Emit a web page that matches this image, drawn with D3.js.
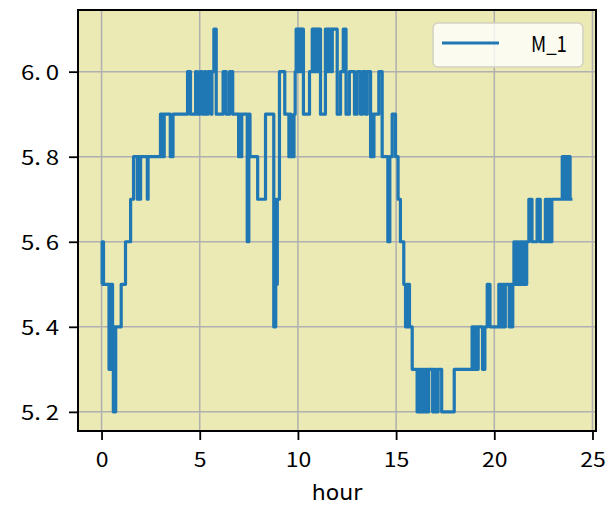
<!DOCTYPE html>
<html>
<head>
<meta charset="utf-8">
<script src="https://cdn.jsdelivr.net/npm/d3@7"></script>
<style>
  html, body { margin: 0; padding: 0; background: #ffffff; }
  svg { display: block; }
</style>
</head>
<body>
<svg id="chart" width="613" height="520"></svg>
<script>
// ---- data ----
const seriesName = "M_1";
const hours = [
  0.00, 0.03, 0.10, 0.38, 0.42, 0.46, 0.50, 0.56, 0.60, 0.64, 0.68, 0.72, 1.00, 1.22, 1.48, 1.63,
  1.82, 1.86, 1.95, 1.99, 2.33, 2.37, 3.00, 3.05, 3.09, 3.14, 3.19, 3.50, 3.64, 4.38, 4.53, 4.79,
  4.87, 5.00, 5.13, 5.25, 5.32, 5.42, 5.58, 5.62, 5.72, 5.84, 6.19, 6.35, 6.52, 6.68, 6.98, 7.03,
  7.07, 7.14, 7.42, 7.50, 7.56, 7.95, 8.35, 8.77, 8.80, 8.83, 8.87, 8.90, 8.92, 8.95, 9.06, 9.33,
  9.54, 9.60, 9.64, 9.80, 9.86, 9.91, 10.00, 10.04, 10.12, 10.16, 10.28, 10.59, 10.73, 10.84, 10.89, 11.00,
  11.04, 11.15, 11.40, 11.52, 11.57, 11.70, 11.75, 12.00, 12.17, 12.31, 12.45, 12.62, 12.88, 13.02, 13.19, 13.30,
  13.45, 13.53, 13.70, 13.78, 13.82, 13.87, 14.12, 14.29, 14.58, 14.68, 14.80, 14.97, 15.10, 15.22, 15.39, 15.48,
  15.53, 15.58, 15.63, 15.68, 15.82, 16.07, 16.12, 16.17, 16.23, 16.28, 16.34, 16.39, 16.45, 16.50, 16.56, 16.61,
  16.66, 16.86, 16.92, 16.97, 17.03, 17.08, 17.14, 17.32, 17.96, 18.87, 18.92, 18.97, 19.02, 19.08, 19.13, 19.18,
  19.40, 19.52, 19.64, 19.78, 20.23, 20.28, 20.34, 20.39, 20.45, 20.50, 20.56, 20.76, 20.82, 20.88, 20.94, 21.00,
  21.05, 21.11, 21.16, 21.22, 21.27, 21.33, 21.38, 21.44, 21.49, 21.55, 21.60, 21.65, 21.76, 21.92, 22.18, 22.34,
  22.60, 22.70, 22.76, 22.86, 22.93, 23.46, 23.51, 23.56, 23.62, 23.67, 23.74, 23.79, 23.86, 23.98
];
const m1 = [
  5.5, 5.6, 5.5, 5.3, 5.5, 5.3, 5.5, 5.4, 5.2, 5.4, 5.2, 5.4, 5.5, 5.6, 5.7, 5.8,
  5.7, 5.8, 5.7, 5.8, 5.7, 5.8, 5.9, 5.8, 5.9, 5.8, 5.9, 5.8, 5.9, 6.0, 5.9, 6.0,
  5.9, 6.0, 5.9, 6.0, 5.9, 6.0, 5.9, 6.0, 6.1, 5.9, 6.0, 5.9, 6.0, 5.9, 5.8, 5.9,
  5.8, 5.9, 5.6, 5.9, 5.8, 5.7, 5.9, 5.4, 5.5, 5.4, 5.5, 5.7, 5.5, 5.7, 6.0, 5.9,
  5.8, 5.9, 5.8, 5.9, 6.0, 6.1, 6.0, 6.1, 6.0, 6.1, 5.9, 6.0, 6.1, 6.0, 6.1, 6.0,
  6.1, 5.9, 6.1, 6.0, 6.1, 6.0, 6.1, 5.9, 6.0, 6.1, 5.9, 6.0, 5.9, 6.0, 5.9, 6.0,
  5.9, 6.0, 5.8, 5.9, 5.8, 5.9, 6.0, 5.8, 5.6, 5.8, 5.9, 5.8, 5.7, 5.6, 5.5, 5.4,
  5.5, 5.4, 5.5, 5.4, 5.3, 5.2, 5.3, 5.2, 5.3, 5.2, 5.3, 5.2, 5.3, 5.2, 5.3, 5.2,
  5.3, 5.2, 5.3, 5.2, 5.3, 5.2, 5.3, 5.2, 5.3, 5.4, 5.3, 5.4, 5.3, 5.4, 5.3, 5.4,
  5.3, 5.4, 5.5, 5.4, 5.5, 5.4, 5.5, 5.4, 5.5, 5.4, 5.5, 5.4, 5.5, 5.4, 5.5, 5.6,
  5.5, 5.6, 5.5, 5.6, 5.5, 5.6, 5.5, 5.6, 5.5, 5.6, 5.5, 5.6, 5.7, 5.6, 5.7, 5.6,
  5.7, 5.6, 5.7, 5.6, 5.7, 5.8, 5.7, 5.8, 5.7, 5.8, 5.7, 5.8, 5.7, 5.7
];
const xTicks = [0, 5, 10, 15, 20, 25];
const yTicks = [5.2, 5.4, 5.6, 5.8, 6.0];
const xLabel = "hour";

// ---- layout ----
const svg = d3.select("#chart");
const L = 78, R = 596, T = 10, B = 431;
const jpFont = "'Noto Sans CJK JP', 'Noto Sans', 'DejaVu Sans', sans-serif";

const xMin = d3.min(hours), xMax = d3.max(hours);
const xPad = (xMax - xMin) * 0.05;
const yMin = d3.min(m1), yMax = d3.max(m1);
const yPad = (yMax - yMin) * 0.05;

const x = d3.scaleLinear().domain([xMin - xPad, xMax + xPad]).range([L, R]);
const y = d3.scaleLinear().domain([yMin - yPad, yMax + yPad]).range([B, T]);

// background
svg.append("rect").attr("x", L).attr("y", T).attr("width", R - L).attr("height", B - T)
  .attr("fill", "#ebe9b4");

// grid
const grid = svg.append("g").attr("stroke", "#b0b0b0").attr("stroke-width", 1.5);
xTicks.forEach(t => grid.append("line").attr("x1", x(t)).attr("x2", x(t)).attr("y1", T).attr("y2", B));
yTicks.forEach(t => grid.append("line").attr("x1", L).attr("x2", R).attr("y1", y(t)).attr("y2", y(t)));

// series
const data = hours.map((h, i) => ({ h, v: m1[i] }));
const line = d3.line().x(d => x(d.h)).y(d => y(d.v)).curve(d3.curveStepAfter);
svg.append("path").datum(data)
  .attr("d", line)
  .attr("fill", "none")
  .attr("stroke", "#1f77b4")
  .attr("stroke-width", 3.2)
  .attr("stroke-linejoin", "round");

// axes via d3
const xAxis = d3.axisBottom(x).tickValues(xTicks).tickSize(9).tickFormat(d3.format("d"));
const yAxis = d3.axisLeft(y).tickValues(yTicks).tickSize(9).tickFormat(d3.format(".1f"));

const gx = svg.append("g").attr("transform", `translate(0,${B})`).call(xAxis);
const gy = svg.append("g").attr("transform", `translate(${L},0)`).call(yAxis);

[gx, gy].forEach(g => {
  g.select(".domain").remove();
  g.selectAll(".tick line").attr("stroke", "#000").attr("stroke-width", 1.8);
  g.selectAll(".tick text").attr("fill", "#000").attr("font-family", jpFont).attr("font-size", 20)
    .attr("x", 0).attr("y", 0).attr("dy", null);
});
gx.selectAll(".tick text").attr("text-anchor", "middle")
  .attr("transform", "translate(0,36) scale(1.15,1)");
gy.selectAll(".tick text").attr("text-anchor", "end")
  .attr("transform", "translate(-19,8) scale(1.2,1)")
  .each(function(d) {
    const s = d3.format(".1f")(d);
    const t = d3.select(this).text(null);
    t.append("tspan").text(s.slice(0, 2));
    t.append("tspan").attr("dx", 4).text(s.slice(2));
  });

// spines
svg.append("rect").attr("x", L).attr("y", T).attr("width", R - L).attr("height", B - T)
  .attr("fill", "none").attr("stroke", "#000").attr("stroke-width", 2);

// x label
svg.append("text").attr("x", (L + R) / 2).attr("y", 500).attr("text-anchor", "middle")
  .attr("font-family", "'DejaVu Sans', sans-serif").attr("font-size", 22).attr("fill", "#000")
  .text(xLabel);

// legend
const lg = svg.append("g");
lg.append("rect").attr("x", 433).attr("y", 23).attr("width", 150).attr("height", 44).attr("rx", 5)
  .attr("fill", "rgba(255,255,255,0.8)").attr("stroke", "#d4d2c0").attr("stroke-width", 1.5);
lg.append("line").attr("x1", 442).attr("x2", 499).attr("y1", 43).attr("y2", 43)
  .attr("stroke", "#1f77b4").attr("stroke-width", 3.2);
lg.append("text").attr("transform", "translate(531,52) scale(0.85,1)")
  .attr("font-family", jpFont).attr("font-size", 22)
  .attr("fill", "#000").text(seriesName);
</script>
</body>
</html>
